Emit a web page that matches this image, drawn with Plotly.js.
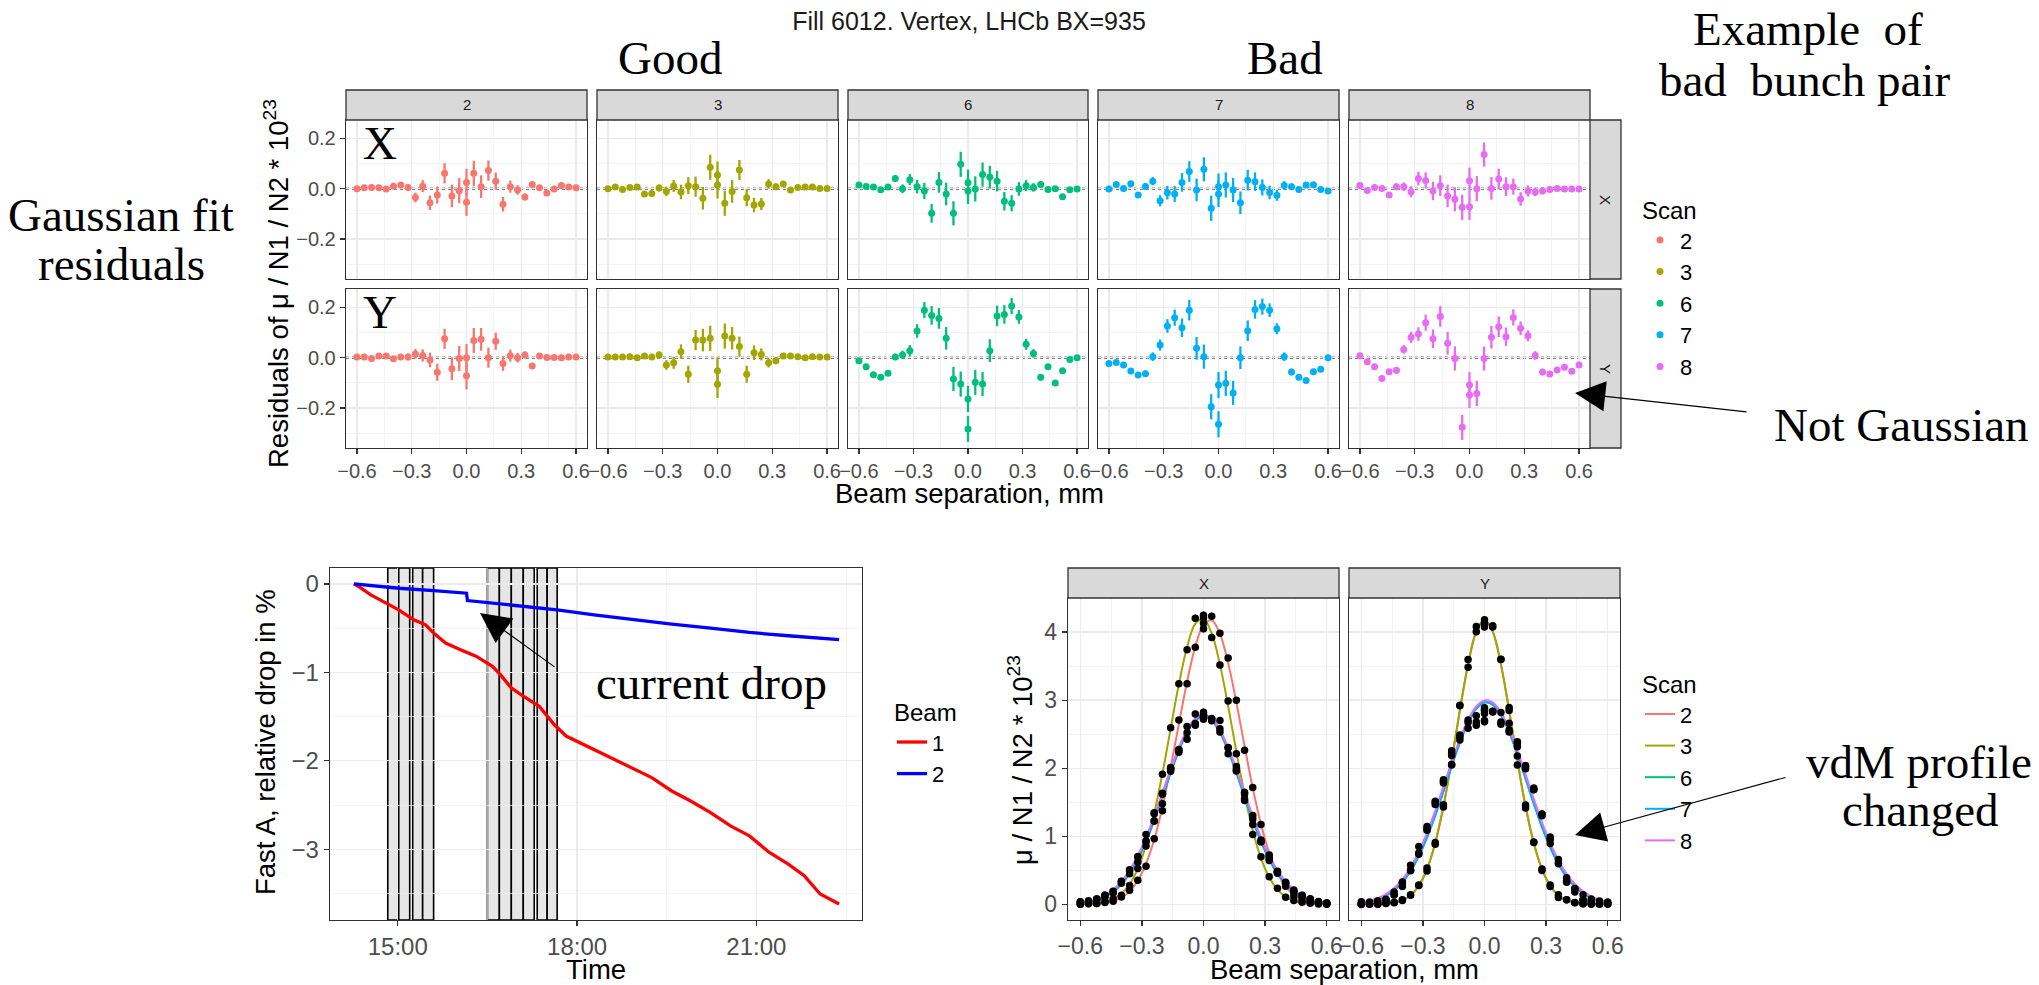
<!DOCTYPE html>
<html><head><meta charset="utf-8">
<script src="https://cdn.plot.ly/plotly-3.0.1.min.js"></script>
<style>html,body{margin:0;padding:0;background:#fff}#chart{width:2039px;height:985px}</style>
</head><body><div id="chart"></div>
<script>
// ---------------- DATA ----------------
const scans = ['2','3','6','7','8'];
const scanColors = ['#F8766D','#A3A500','#00BF7D','#00B0F6','#E76BF3'];
// beam separation of scan points (mm); last entry = repeated centre point
const sepX = [-0.60,-0.56,-0.52,-0.48,-0.44,-0.40,-0.36,-0.32,-0.28,-0.24,-0.20,-0.16,-0.12,-0.08,-0.04,0.00,0.04,0.08,0.12,0.16,0.20,0.24,0.28,0.32,0.36,0.40,0.44,0.48,0.52,0.56,0.60,0.00];

// Gaussian fit residuals, X plane
const resX2 = [0.000,0.004,0.005,0.004,-0.001,0.010,0.015,0.005,-0.035,0.010,-0.056,-0.025,0.061,-0.029,-0.008,0.025,0.061,0.008,0.072,0.030,-0.062,0.008,-0.005,-0.033,0.017,0.004,-0.017,-0.001,0.013,0.007,0.004,-0.054];
const resX3 = [0.000,0.007,-0.003,0.005,0.007,-0.021,-0.019,0.003,-0.011,0.011,-0.013,0.012,0.008,-0.038,0.085,0.054,-0.058,-0.011,0.074,-0.036,-0.065,-0.061,0.019,0.008,0.019,-0.005,0.005,0.007,0.007,0.001,0.001,0.015];
const resX6 = [0.015,0.009,0.007,-0.004,0.007,0.040,0.000,0.036,0.008,-0.009,-0.098,0.025,-0.021,-0.098,0.097,0.024,-0.001,0.056,0.046,0.030,-0.050,-0.058,-0.001,0.012,0.005,0.017,-0.003,0.000,-0.032,-0.004,-0.001,-0.009];
const resX7 = [-0.001,0.017,0.001,0.020,-0.025,0.009,0.030,-0.048,-0.016,-0.021,0.025,0.068,-0.005,0.077,-0.078,0.008,0.015,-0.005,-0.056,0.034,0.028,0.005,-0.015,-0.026,0.013,0.008,-0.003,0.015,0.016,-0.003,-0.009,-0.021];
const resX8 = [0.013,-0.007,0.005,0.001,-0.025,0.008,0.008,-0.012,0.040,0.033,-0.009,0.012,-0.029,-0.042,-0.074,0.032,0.000,0.136,0.001,0.038,0.008,0.008,-0.041,-0.009,-0.013,-0.009,-0.003,0.001,-0.001,-0.001,-0.001,-0.072];
// Gaussian fit residuals, Y plane
const resY2 = [0.003,0.003,-0.003,0.007,0.007,-0.004,0.003,0.003,0.015,0.009,-0.009,-0.058,0.075,-0.044,-0.003,0.000,0.068,0.073,0.000,0.065,-0.023,0.008,0.000,0.011,-0.033,0.007,0.001,0.001,0.000,0.003,0.003,-0.072];
const resY3 = [0.003,0.003,0.003,0.004,0.000,0.007,0.003,0.011,-0.029,-0.020,0.024,-0.066,0.070,0.070,0.077,-0.052,0.086,0.077,0.044,-0.066,0.020,0.013,-0.020,-0.012,0.007,0.007,0.004,0.000,0.004,0.003,0.003,-0.106];
const resY6 = [-0.012,-0.036,-0.068,-0.078,-0.062,0.003,0.011,0.028,0.106,0.189,0.168,0.156,0.077,-0.085,-0.105,-0.164,-0.098,-0.105,0.028,0.166,0.172,0.205,0.162,0.053,0.017,-0.078,-0.036,-0.101,-0.052,-0.007,0.000,-0.283];
const resY7 = [-0.023,-0.019,-0.029,-0.053,-0.069,-0.064,0.004,0.050,0.126,0.159,0.119,0.189,0.037,0.004,-0.195,-0.109,-0.102,-0.140,0.000,0.107,0.192,0.203,0.189,0.115,0.004,-0.057,-0.078,-0.091,-0.056,-0.046,0.000,-0.265];
const resY8 = [0.008,-0.016,-0.036,-0.083,-0.056,-0.050,0.033,0.081,0.094,0.139,0.075,0.164,0.057,-0.003,-0.277,-0.109,-0.142,-0.003,0.081,0.123,0.083,0.160,0.117,0.087,0.009,-0.057,-0.065,-0.049,-0.038,-0.054,-0.029,-0.148];
// statistical errors (same ordering as sepX)
const errGood = [0.003,0.003,0.004,0.004,0.005,0.007,0.010,0.014,0.019,0.024,0.029,0.034,0.040,0.045,0.050,0.054,0.050,0.045,0.040,0.034,0.029,0.024,0.019,0.014,0.010,0.007,0.005,0.004,0.004,0.003,0.003,0.054];
const errBad  = [0.004,0.005,0.006,0.008,0.010,0.013,0.017,0.022,0.027,0.032,0.037,0.041,0.045,0.048,0.050,0.052,0.050,0.048,0.045,0.041,0.037,0.032,0.027,0.022,0.017,0.013,0.010,0.008,0.006,0.005,0.004,0.052];

// fitted vdM profiles at the 31 scan separations (mu/N1/N2 * 1e23)
const fitX2 = [0.0013,0.0036,0.0090,0.0214,0.0473,0.0982,0.191,0.348,0.595,0.953,1.430,2.010,2.648,3.270,3.785,4.104,4.172,3.973,3.547,2.967,2.326,1.709,1.177,0.759,0.459,0.260,0.138,0.0687,0.0321,0.0140,0.0057];
const fitX3 = [0.0022,0.0060,0.0151,0.0352,0.0768,0.156,0.2965,0.525,0.867,1.336,1.923,2.581,3.232,3.777,4.119,4.191,3.979,3.525,2.913,2.247,1.617,1.086,0.680,0.398,0.217,0.110,0.0525,0.0232,0.0096,0.0037,0.0013];
const fitX6 = [0.0179,0.0342,0.0627,0.110,0.184,0.294,0.450,0.658,0.921,1.232,1.577,1.929,2.256,2.523,2.699,2.760,2.699,2.523,2.256,1.929,1.577,1.232,0.921,0.658,0.450,0.294,0.184,0.110,0.0627,0.0342,0.0179];
const fitX7 = [0.0189,0.0360,0.0655,0.114,0.190,0.302,0.460,0.671,0.935,1.247,1.592,1.943,2.269,2.535,2.709,2.770,2.709,2.535,2.269,1.943,1.592,1.247,0.935,0.671,0.460,0.302,0.190,0.114,0.0655,0.0360,0.0189];
const fitX8 = [0.0234,0.0433,0.0768,0.131,0.213,0.333,0.499,0.716,0.985,1.298,1.640,1.986,2.304,2.563,2.731,2.790,2.731,2.563,2.304,1.986,1.640,1.298,0.985,0.716,0.499,0.333,0.213,0.131,0.0768,0.0433,0.0234];
const fitY23 = [0.0003,0.0010,0.0031,0.0090,0.0241,0.0589,0.1325,0.273,0.518,0.901,1.440,2.113,2.848,3.525,4.006,4.180,4.006,3.525,2.848,2.113,1.440,0.901,0.518,0.273,0.1325,0.0589,0.0241,0.0090,0.0031,0.0010,0.0003];
const fitY67 = [0.0223,0.0414,0.0739,0.1263,0.207,0.3258,0.491,0.7095,0.983,1.306,1.663,2.031,2.378,2.670,2.874,2.966,2.935,2.785,2.533,2.209,1.848,1.481,1.139,0.839,0.593,0.402,0.261,0.1627,0.0972,0.0556,0.0305];
const fitY8 = [0.0287,0.0517,0.0896,0.149,0.239,0.367,0.542,0.769,1.049,1.374,1.729,2.091,2.429,2.712,2.908,2.996,2.966,2.822,2.579,2.265,1.910,1.549,1.206,0.902,0.649,0.448,0.298,0.190,0.116,0.068,0.0387];

// Fast BCT relative intensity drop (%)
const beam1Time = ['14:16','14:22','14:33','14:49','15:01','15:16','15:28','15:36','15:48','16:03','16:19','16:35','16:43','16:54','17:06','17:22','17:37','17:49','18:17','18:56','19:15','19:35','19:54','20:14','20:34','20:53','21:13','21:32','21:48','22:04','22:23'];
const beam1Drop = [0,-0.038,-0.124,-0.218,-0.293,-0.406,-0.462,-0.556,-0.669,-0.744,-0.82,-0.932,-1.026,-1.176,-1.27,-1.383,-1.59,-1.72,-1.871,-2.078,-2.19,-2.341,-2.454,-2.585,-2.736,-2.849,-3.036,-3.168,-3.3,-3.506,-3.619];
const beam2Time = ['14:16','15:01','15:36','16:09','16:10','16:58','17:40','18:17','18:56','19:35','20:14','20:53','21:32','22:23'];
const beam2Drop = [0,-0.049,-0.075,-0.105,-0.188,-0.244,-0.293,-0.35,-0.406,-0.455,-0.5,-0.549,-0.586,-0.631];
// vdM scan periods
const scanStart = ['14:50','15:01','15:15','15:25','16:30','16:42','16:54','17:06','17:20','17:30'];
const scanEnd   = ['15:01','15:12','15:25','15:36','16:42','16:54','17:06','17:17','17:30','17:40'];
const fillDate = '2017-07-03 ';

// ---------------- LAYOUT HELPERS ----------------
const W = 2039, H = 985;
const SANS = 'Liberation Sans, Arial, Helvetica, sans-serif';
const SERIF = 'Liberation Serif, Times New Roman, serif';
const px = v => v / W;
const py = v => 1 - v / H;
const axName = (n, t) => (n === 1 ? t : t + n);
const AXT = 27.5;   // axis-title font size
const LEG = 22;     // legend font size

function baseAxis(extra) {
  return Object.assign({
    showline: true, mirror: true, linecolor: '#333333', linewidth: 1.3,
    showgrid: true, gridcolor: '#EBEBEB', gridwidth: 1.3, zeroline: false,
    ticks: 'outside', ticklen: 5, tickcolor: '#333333', tickwidth: 1.2,
    tickfont: {family: SANS, size: 20, color: '#4D4D4D'}, fixedrange: true
  }, extra);
}
const minorOf = vals => ({tickvals: vals, showgrid: true, gridcolor: '#F0F0F0', gridwidth: 0.7, ticks: ''});

const traces = [];
const layout = {
  width: W, height: H, margin: {l: 0, r: 0, t: 0, b: 0},
  paper_bgcolor: '#ffffff', plot_bgcolor: '#ffffff',
  font: {family: SANS, color: '#000'},
  title: {text: 'Fill 6012. Vertex, LHCb BX=935', x: px(969), xanchor: 'center', xref: 'paper',
          y: py(21), yanchor: 'middle', yref: 'paper', font: {family: SANS, size: 25, color: '#1A1A1A'}},
  shapes: [], annotations: []
};

// ----- top: residual facets -----
const colL = [346, 597, 848, 1098, 1349], colR = [587, 838, 1088, 1339, 1590];
const rowT = [120, 289], rowB = [279, 448];
const resX = [resX2, resX3, resX6, resX7, resX8];
const resY = [resY2, resY3, resY6, resY7, resY8];
const errs = [errGood, errGood, errBad, errBad, errBad];
const fitXs = [fitX2, fitX3, fitX6, fitX7, fitX8];
const fitYs = [fitY23, fitY23, fitY67, fitY67, fitY8];

for (let r = 0; r < 2; r++) {
  for (let i = 0; i < 5; i++) {
    const n = r * 5 + i + 1;
    layout[axName(n, 'xaxis')] = baseAxis({
      domain: [px(colL[i]), px(colR[i])], anchor: axName(n, 'y'),
      range: [-0.66, 0.66], tickvals: [-0.6, -0.3, 0, 0.3, 0.6], tickformat: '.1f',
      showticklabels: r === 1, ticks: r === 1 ? 'outside' : '',
      minor: minorOf([-0.45, -0.15, 0.15, 0.45])
    });
    layout[axName(n, 'yaxis')] = baseAxis({
      domain: [py(rowB[r]), py(rowT[r])], anchor: axName(n, 'x'),
      range: [-0.359, 0.273], tickvals: [-0.2, 0, 0.2], tickformat: '.1f',
      showticklabels: i === 0, ticks: i === 0 ? 'outside' : '',
      minor: minorOf([-0.3, -0.1, 0.1])
    });
    layout.shapes.push({type: 'line', xref: axName(n, 'x') + ' domain', yref: axName(n, 'y'),
      x0: 0, x1: 1, y0: 0, y1: 0, line: {color: '#000000', width: 1.8, dash: 'dot'}, layer: 'below'});
    traces.push({
      type: 'scatter', mode: 'markers', x: sepX, y: r === 0 ? resX[i] : resY[i],
      xaxis: axName(n, 'x'), yaxis: axName(n, 'y'),
      name: scans[i], legendgroup: 's' + scans[i], showlegend: r === 0, legend: 'legend',
      marker: {color: scanColors[i], size: 7},
      error_y: {type: 'data', array: errs[i], visible: true, thickness: 2.3, width: 0, color: scanColors[i]}
    });
  }
}
// top strips
for (let i = 0; i < 5; i++) {
  layout.shapes.push({type: 'rect', xref: 'paper', yref: 'paper', x0: px(colL[i]), x1: px(colR[i]), y0: py(120), y1: py(90),
    fillcolor: '#D9D9D9', line: {color: '#333333', width: 1.3}, layer: 'above'});
  layout.annotations.push({text: scans[i], xref: 'paper', yref: 'paper', x: px((colL[i] + colR[i]) / 2), y: py(105),
    showarrow: false, font: {family: SANS, size: 15, color: '#1A1A1A'}, xanchor: 'center', yanchor: 'middle'});
}
[['X', 120, 279], ['Y', 289, 448]].forEach(([lab, t, b]) => {
  layout.shapes.push({type: 'rect', xref: 'paper', yref: 'paper', x0: px(1590), x1: px(1621), y0: py(b), y1: py(t),
    fillcolor: '#D9D9D9', line: {color: '#333333', width: 1.3}, layer: 'above'});
  layout.annotations.push({text: lab, xref: 'paper', yref: 'paper', x: px(1605.5), y: py((t + b) / 2), textangle: 90,
    showarrow: false, font: {family: SANS, size: 15, color: '#1A1A1A'}, xanchor: 'center', yanchor: 'middle'});
});

// ----- bottom-left: intensity drop -----
layout.xaxis11 = baseAxis({
  domain: [px(330), px(862)], anchor: 'y11', type: 'date',
  range: [fillDate + '13:52', fillDate + '22:46'],
  tickvals: [fillDate + '15:00', fillDate + '18:00', fillDate + '21:00'], ticktext: ['15:00', '18:00', '21:00'],
  tickfont: {family: SANS, size: 24, color: '#4D4D4D'},
  minor: minorOf([fillDate + '16:30', fillDate + '19:30', fillDate + '22:30'])
});
layout.yaxis11 = baseAxis({
  domain: [py(920), py(568)], anchor: 'x11', range: [-3.80, 0.18],
  tickvals: [0, -1, -2, -3], tickfont: {family: SANS, size: 24, color: '#4D4D4D'},
  minor: minorOf([-0.5, -1.5, -2.5, -3.5])
});
scanStart.forEach((s, k) => {
  layout.shapes.push({type: 'rect', xref: 'x11', yref: 'y11 domain', x0: fillDate + s, x1: fillDate + scanEnd[k], y0: 0, y1: 1,
    fillcolor: '#E6E6E6', line: {color: '#000000', width: 1.6}, layer: 'below'});
});
traces.push({type: 'scatter', mode: 'lines', x: beam1Time.map(t => fillDate + t), y: beam1Drop, xaxis: 'x11', yaxis: 'y11',
  name: '1', legend: 'legend2', line: {color: '#FF0000', width: 3.3}});
traces.push({type: 'scatter', mode: 'lines', x: beam2Time.map(t => fillDate + t), y: beam2Drop, xaxis: 'x11', yaxis: 'y11',
  name: '2', legend: 'legend2', line: {color: '#0000FF', width: 3.3}});

// ----- bottom-right: vdM profiles -----
const brL = [1068, 1349], brR = [1339, 1620];
['X', 'Y'].forEach((lab, j) => {
  const n = 12 + j;
  layout['xaxis' + n] = baseAxis({
    domain: [px(brL[j]), px(brR[j])], anchor: 'y' + n, range: [-0.66, 0.66],
    tickvals: [-0.6, -0.3, 0, 0.3, 0.6], tickformat: '.1f',
    tickfont: {family: SANS, size: 23, color: '#4D4D4D'},
    minor: minorOf([-0.45, -0.15, 0.15, 0.45])
  });
  layout['yaxis' + n] = baseAxis({
    domain: [py(920), py(598)], anchor: 'x' + n, range: [-0.23, 4.5],
    tickvals: [0, 1, 2, 3, 4], showticklabels: j === 0, ticks: j === 0 ? 'outside' : '',
    tickfont: {family: SANS, size: 23, color: '#4D4D4D'},
    minor: minorOf([0.5, 1.5, 2.5, 3.5])
  });
  layout.shapes.push({type: 'rect', xref: 'paper', yref: 'paper', x0: px(brL[j]), x1: px(brR[j]), y0: py(598), y1: py(568),
    fillcolor: '#D9D9D9', line: {color: '#333333', width: 1.3}, layer: 'above'});
  layout.annotations.push({text: lab, xref: 'paper', yref: 'paper', x: px((brL[j] + brR[j]) / 2), y: py(583),
    showarrow: false, font: {family: SANS, size: 15, color: '#1A1A1A'}, xanchor: 'center', yanchor: 'middle'});
});
const scanX = sepX.slice(0, 31);
for (let i = 0; i < 5; i++) {
  traces.push({type: 'scatter', mode: 'lines', x: scanX, y: fitXs[i], xaxis: 'x12', yaxis: 'y12',
    name: scans[i], legend: 'legend3', showlegend: true, line: {color: scanColors[i], width: 2, shape: 'spline'}});
  traces.push({type: 'scatter', mode: 'lines', x: scanX, y: fitYs[i], xaxis: 'x13', yaxis: 'y13',
    name: scans[i], legend: 'legend3', showlegend: false, line: {color: scanColors[i], width: 2, shape: 'spline'}});
}
for (let i = 0; i < 5; i++) {
  // measured points = fitted profile + residual
  const ptsX = sepX.map((x, k) => fitXs[i][k < 31 ? k : 15] + resX[i][k]);
  const ptsY = sepX.map((x, k) => fitYs[i][k < 31 ? k : 15] + resY[i][k]);
  [[ptsX, 'x12', 'y12'], [ptsY, 'x13', 'y13']].forEach(([vals, xa, ya]) => {
    traces.push({type: 'scatter', mode: 'markers', x: sepX, y: vals, xaxis: xa, yaxis: ya, showlegend: false,
      marker: {color: '#000000', size: 7.5},
      error_y: {type: 'data', array: errs[i], visible: true, thickness: 1.5, width: 0, color: '#000000'}});
  });
}

// ----- legends -----
const legBase = {xref: 'paper', yref: 'paper', xanchor: 'left', yanchor: 'top', bgcolor: 'rgba(0,0,0,0)',
  font: {family: SANS, size: LEG, color: '#000'}, tracegroupgap: 0, itemwidth: 30, traceorder: 'normal'};
layout.legend = Object.assign({}, legBase, {x: px(1640), y: py(188), title: {text: 'Scan', font: {family: SANS, size: 24}}});
layout.legend2 = Object.assign({}, legBase, {x: px(892), y: py(690), title: {text: 'Beam', font: {family: SANS, size: 24}}});
layout.legend3 = Object.assign({}, legBase, {x: px(1640), y: py(662), title: {text: 'Scan', font: {family: SANS, size: 24}}});

// ----- axis titles (shared across facets) -----
const addText = (text, x, y, size, family, opts) => layout.annotations.push(Object.assign({
  text, xref: 'paper', yref: 'paper', x: px(x), y: py(y), showarrow: false,
  font: {family, size, color: '#000'}, xanchor: 'center', yanchor: 'middle'}, opts || {}));
addText('Beam separation, mm', 969, 493, AXT, SANS);
addText('Residuals of \u03BC / N1 / N2 * 10<sup>23</sup>', 276, 284, AXT, SANS, {textangle: -90});
addText('Time', 596, 969, AXT, SANS);
addText('Fast A, relative drop in %', 265, 742, AXT, SANS, {textangle: -90});
addText('Beam separation, mm', 1344, 969, AXT, SANS);
addText('\u03BC / N1 / N2 * 10<sup>23</sup>', 1020, 760, AXT, SANS, {textangle: -90});

// ----- slide annotations -----
addText('Good', 670, 58, 47, SERIF);
addText('Bad', 1285, 58, 47, SERIF);
addText('Example\u00A0\u00A0of', 1808, 29, 47, SERIF);
addText('bad\u00A0\u00A0bunch pair', 1804, 80, 47, SERIF);
addText('Gaussian fit', 121, 215, 47, SERIF);
addText('residuals', 121, 264, 47, SERIF);
addText('X', 380, 143, 47, SERIF);
addText('Y', 380, 312, 47, SERIF);
addText('Not Gaussian', 1901, 425, 47, SERIF);
addText('current drop', 711, 683, 47, SERIF);
addText('vdM profile', 1919, 762, 47, SERIF);
addText('changed', 1920, 810, 47, SERIF);
const arrow = (tipX, tipY, tailX, tailY) => layout.annotations.push({
  text: '', xref: 'paper', yref: 'paper', x: px(tipX), y: py(tipY), ax: tailX - tipX, ay: tailY - tipY,
  showarrow: true, arrowhead: 2, arrowsize: 5.5, arrowwidth: 1.1, arrowcolor: '#000', standoff: 0});
arrow(1575, 393, 1748, 412);
arrow(480, 613, 556, 668);
arrow(1575, 835, 1787, 777);

Plotly.newPlot('chart', traces, layout, {displayModeBar: false, staticPlot: true});
</script></body></html>
